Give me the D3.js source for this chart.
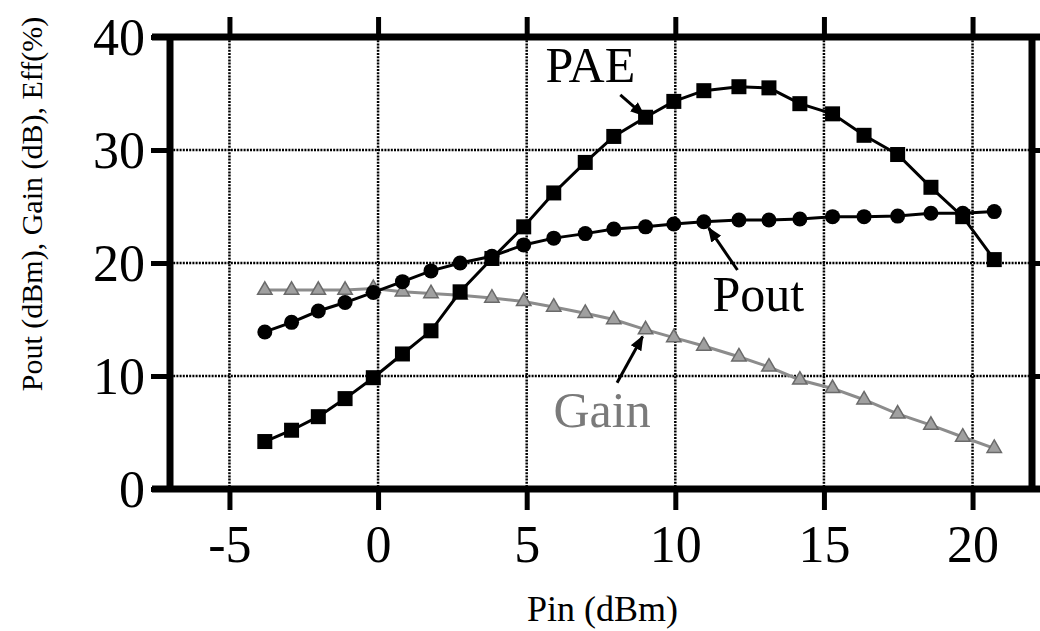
<!DOCTYPE html>
<html>
<head>
<meta charset="utf-8">
<script src="https://cdn.jsdelivr.net/npm/d3@7"></script>
<style>
  html, body { margin: 0; padding: 0; background: #fff; }
  svg { display: block; }
  svg text { font-family: "Times New Roman", "Liberation Serif", Tinos, Times, "DejaVu Serif", "Noto Serif", serif; fill: #000; }
</style>
</head>
<body>
<svg id="chart" width="1040" height="631"></svg>
<script>
// ---- data ----
const pin  = [-3.81,-2.91,-2.01,-1.11,-0.16,0.82,1.78,2.76,3.83,4.90,5.91,6.97,7.93,9.00,9.95,10.96,12.14,13.15,14.19,15.29,16.35,17.48,18.60,19.67,20.73];
const pae  = [4.2,5.2,6.4,8.0,9.85,11.95,14.0,17.45,20.4,23.2,26.2,28.9,31.2,32.9,34.3,35.25,35.6,35.5,34.1,33.2,31.3,29.6,26.7,24.1,20.3];
const pout = [13.9,14.75,15.75,16.5,17.4,18.35,19.3,20.0,20.6,21.6,22.2,22.6,23.0,23.2,23.45,23.65,23.8,23.8,23.9,24.1,24.1,24.15,24.4,24.4,24.55];
const gain = [17.6,17.6,17.6,17.6,17.75,17.45,17.3,17.15,16.9,16.6,16.1,15.55,15.0,14.1,13.4,12.65,11.7,10.8,9.65,8.9,7.9,6.65,5.65,4.6,3.6];
const xTicks = [-5, 0, 5, 10, 15, 20];
const yTicks = [0, 10, 20, 30, 40];
const xTitle = "Pin (dBm)";
const yTitle = "Pout (dBm), Gain (dB), Eff(%)";
const seriesNames = ["PAE", "Pout", "Gain"];

const FONT = "'Times New Roman', 'Liberation Serif', Tinos, Times, 'DejaVu Serif', 'Noto Serif', serif";

// ---- layout ----
const svg = d3.select("#chart");
const L = 170, R = 1032, T = 37, B = 489;
const x = d3.scaleLinear().domain([-7, 22]).range([L, R]);
const y = d3.scaleLinear().domain([0, 40]).range([B, T]);

// grid
const grid = svg.append("g");
grid.selectAll("line.gx").data(xTicks).join("line")
  .attr("x1", d => x(d)).attr("x2", d => x(d)).attr("y1", T).attr("y2", B)
  .attr("stroke", "#000").attr("stroke-width", 2.5).attr("stroke-dasharray", "2,1.2");
grid.selectAll("line.gy").data(yTicks.filter(d => d > 0 && d < 40)).join("line")
  .attr("x1", L).attr("x2", R).attr("y1", d => y(d)).attr("y2", d => y(d))
  .attr("stroke", "#000").attr("stroke-width", 2.5).attr("stroke-dasharray", "2,1.2");

// axes via d3
const axB = svg.append("g").attr("transform", `translate(0,${B})`)
  .call(d3.axisBottom(x).tickValues(xTicks).tickSize(21).tickPadding(15).tickFormat(d => d < 0 ? "-" + Math.abs(d) : d));
const axT = svg.append("g").attr("transform", `translate(0,${T})`)
  .call(d3.axisTop(x).tickValues(xTicks).tickSize(20).tickFormat(""));
const axL = svg.append("g").attr("transform", `translate(${L},0)`)
  .call(d3.axisLeft(y).tickValues(yTicks).tickSize(19).tickPadding(6));
const axR = svg.append("g").attr("transform", `translate(${R},0)`)
  .call(d3.axisRight(y).tickValues(yTicks).tickSize(10).tickFormat(""));

[axB, axT, axL, axR].forEach(g => {
  g.attr("font-family", FONT);
  g.select(".domain").remove();
  g.selectAll(".tick line").attr("stroke", "#000").attr("stroke-width", 5);
  g.selectAll(".tick text").attr("fill", "#000")
    .attr("font-family", FONT).style("font-family", FONT).style("font-size", "52px");
});
axL.selectAll(".tick text").attr("dy", "0.34em");
axB.selectAll(".tick text").attr("dy", "0.71em");

// frame
const frame = svg.append("g").attr("stroke", "#000").attr("stroke-width", 7).attr("fill", "none");
frame.append("line").attr("x1", L - 18).attr("x2", 1040).attr("y1", T).attr("y2", T);
frame.append("line").attr("x1", L - 18).attr("x2", 1040).attr("y1", B).attr("y2", B);
frame.append("line").attr("x1", L).attr("x2", L).attr("y1", T - 3).attr("y2", B + 3);
frame.append("line").attr("x1", R).attr("x2", R).attr("y1", T - 3).attr("y2", B + 3);

// titles
svg.append("text").attr("x", x(7.55)).attr("y", 621).attr("text-anchor", "middle")
  .style("font-family", FONT).style("font-size", "36px").text(xTitle);
svg.append("text").attr("transform", `translate(42,${(12 + 396) / 2}) rotate(-90)`)
  .attr("text-anchor", "middle").style("font-family", FONT).style("font-size", "30px").text(yTitle);

// series
const line = d3.line().x(d => x(d[0])).y(d => y(d[1]));
const gainData = pin.map((p, i) => [p, gain[i]]);
const poutData = pin.map((p, i) => [p, pout[i]]);
const paeData  = pin.map((p, i) => [p, pae[i]]);

// Gain
svg.append("path").datum(gainData).attr("d", line).attr("fill", "none")
  .attr("stroke", "#8c8c8c").attr("stroke-width", 3);
const tri = d3.symbol().type(d3.symbolTriangle).size(90);
svg.selectAll("path.gpt").data(gainData).join("path")
  .attr("transform", d => `translate(${x(d[0])},${y(d[1])})`)
  .attr("d", tri).attr("fill", "#a0a0a0").attr("stroke", "#6a6a6a").attr("stroke-width", 1.5);

// Pout
svg.append("path").datum(poutData).attr("d", line).attr("fill", "none")
  .attr("stroke", "#000").attr("stroke-width", 3);
svg.selectAll("circle.ppt").data(poutData).join("circle")
  .attr("cx", d => x(d[0])).attr("cy", d => y(d[1])).attr("r", 7.5).attr("fill", "#000");

// PAE
svg.append("path").datum(paeData).attr("d", line).attr("fill", "none")
  .attr("stroke", "#000").attr("stroke-width", 3);
svg.selectAll("rect.apt").data(paeData).join("rect")
  .attr("x", d => x(d[0]) - 7.5).attr("y", d => y(d[1]) - 7.5)
  .attr("width", 15).attr("height", 15).attr("fill", "#000");

// annotations (data-space anchors)
const defs = svg.append("defs");
defs.append("marker").attr("id", "ah").attr("viewBox", "0 0 10 10").attr("refX", 9).attr("refY", 5)
  .attr("markerWidth", 5).attr("markerHeight", 5).attr("orient", "auto")
  .append("path").attr("d", "M0,1 L10,5 L0,9 Z").attr("fill", "#000");
const notes = [
  { name: seriesNames[0], tx: 5.63, ty: 36.0, from: [8.15, 34.87], to: [8.95, 33.05], color: "#000" },
  { name: seriesNames[1], tx: 11.25, ty: 15.75, from: [12.09, 19.38], to: [11.12, 23.1], color: "#000" },
  { name: seriesNames[2], tx: 5.9, ty: 5.5, from: [8.04, 9.4], to: [8.9, 13.5], color: "#7a7a7a" }
];
notes.forEach(n => {
  svg.append("line").attr("x1", x(n.from[0])).attr("y1", y(n.from[1]))
    .attr("x2", x(n.to[0])).attr("y2", y(n.to[1]))
    .attr("stroke", "#000").attr("stroke-width", 3).attr("marker-end", "url(#ah)");
  svg.append("text").attr("x", x(n.tx)).attr("y", y(n.ty))
    .style("font-family", FONT).style("font-size", "50px")
    .style("fill", n.color).text(n.name);
});
</script>
</body>
</html>
